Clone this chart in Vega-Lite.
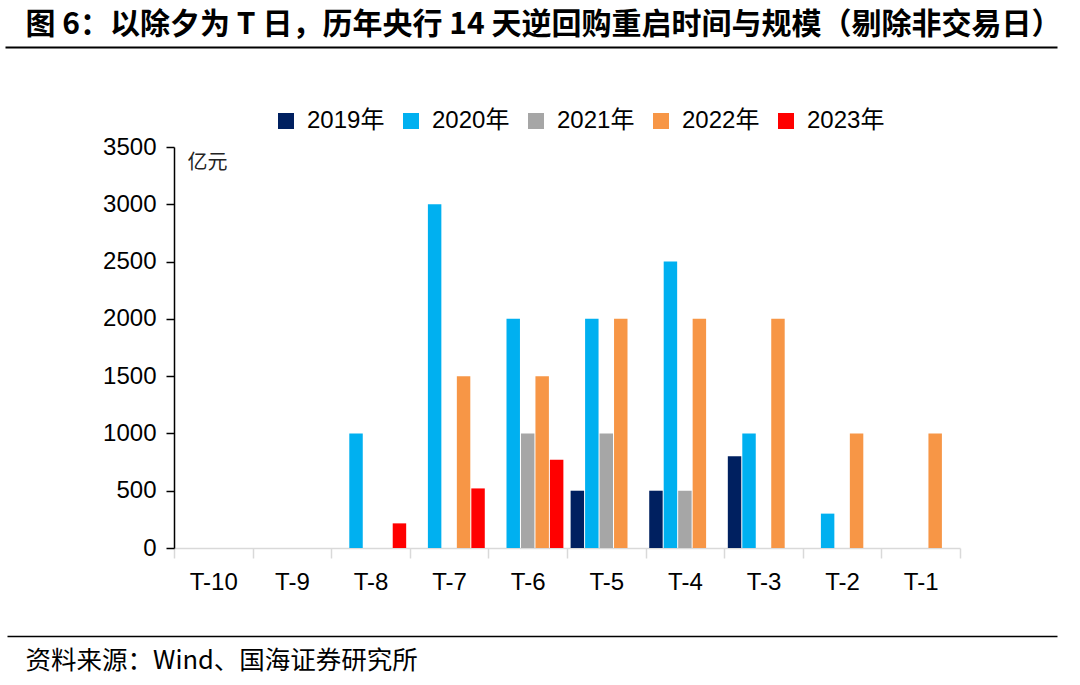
{
  "$schema": "https://vega.github.io/schema/vega-lite/v6.json",
  "autosize": {"type": "none"},
  "width": 786,
  "height": 401,
  "padding": {"left": 174, "top": 147, "right": 120, "bottom": 137},
  "background": "white",
  "config": {"view": {"stroke": null}, "font": "Liberation Sans"},
  "datasets": {
    "bars": [
      {"t": "T-8", "year": "2020年", "value": 1000},
      {"t": "T-8", "year": "2023年", "value": 215},
      {"t": "T-7", "year": "2020年", "value": 3000},
      {"t": "T-7", "year": "2022年", "value": 1500},
      {"t": "T-7", "year": "2023年", "value": 520},
      {"t": "T-6", "year": "2020年", "value": 2000},
      {"t": "T-6", "year": "2021年", "value": 1000},
      {"t": "T-6", "year": "2022年", "value": 1500},
      {"t": "T-6", "year": "2023年", "value": 770},
      {"t": "T-5", "year": "2019年", "value": 500},
      {"t": "T-5", "year": "2020年", "value": 2000},
      {"t": "T-5", "year": "2021年", "value": 1000},
      {"t": "T-5", "year": "2022年", "value": 2000},
      {"t": "T-4", "year": "2019年", "value": 500},
      {"t": "T-4", "year": "2020年", "value": 2500},
      {"t": "T-4", "year": "2021年", "value": 500},
      {"t": "T-4", "year": "2022年", "value": 2000},
      {"t": "T-3", "year": "2019年", "value": 800},
      {"t": "T-3", "year": "2020年", "value": 1000},
      {"t": "T-3", "year": "2022年", "value": 2000},
      {"t": "T-2", "year": "2020年", "value": 300},
      {"t": "T-2", "year": "2022年", "value": 1000},
      {"t": "T-1", "year": "2022年", "value": 1000}
    ],
    "frame": [{"s": 0}, {"s": 1}]
  },
  "layer": [
    {
      "data": {"name": "bars"},
      "mark": {"type": "bar"},
      "encoding": {
        "x": {
          "field": "t",
          "type": "nominal",
          "sort": null,
          "scale": {
            "domain": ["T-10", "T-9", "T-8", "T-7", "T-6", "T-5", "T-4", "T-3", "T-2", "T-1"],
            "paddingInner": 0,
            "paddingOuter": 0
          },
          "axis": {
            "title": null,
            "labelAngle": 0,
            "labelFontSize": 24,
            "labelFont": "Liberation Sans",
            "labelColor": "#000",
            "labelPadding": 12,
            "tickBand": "extent",
            "tickSize": 10,
            "tickColor": "#D9D9D9",
            "tickWidth": 1.5,
            "domainColor": "#D9D9D9",
            "domainWidth": 1.5,
            "grid": false
          }
        },
        "xOffset": {
          "field": "year",
          "type": "nominal",
          "scale": {
            "domain": ["2019年", "2020年", "2021年", "2022年", "2023年"],
            "paddingInner": 0.07,
            "paddingOuter": 0.25
          }
        },
        "y": {
          "field": "value",
          "type": "quantitative",
          "scale": {"domain": [0, 3500], "nice": false},
          "axis": {
            "values": [0, 500, 1000, 1500, 2000, 2500, 3000, 3500],
            "format": "d",
            "grid": false,
            "title": "亿元",
            "titleAngle": 0,
            "titleX": 13,
            "titleY": 15,
            "titleAlign": "left",
            "titleBaseline": "middle",
            "titleFont": "Noto Sans CJK SC",
            "titleFontSize": 20,
            "titleFontWeight": "normal",
            "titleColor": "#222",
            "labelFontSize": 24,
            "labelFont": "Liberation Sans",
            "labelColor": "#000",
            "labelPadding": 10,
            "tickSize": 8,
            "tickColor": "#000",
            "tickWidth": 1.5,
            "domainColor": "#000",
            "domainWidth": 1.5
          }
        },
        "color": {
          "field": "year",
          "type": "nominal",
          "scale": {
            "domain": ["2019年", "2020年", "2021年", "2022年", "2023年"],
            "range": ["#002060", "#00B0F0", "#A6A6A6", "#F79646", "#FF0000"]
          },
          "legend": {
            "orient": "none",
            "legendX": 100,
            "legendY": -38,
            "direction": "horizontal",
            "title": null,
            "symbolType": "square",
            "symbolSize": 256,
            "symbolStrokeWidth": 0,
            "labelFontSize": 24,
            "labelFont": "Liberation Sans, Noto Sans CJK SC",
            "labelColor": "#000",
            "labelOffset": 9,
            "columnPadding": 14
          }
        }
      }
    },
    {
      "data": {"name": "frame"},
      "mark": {"type": "point", "opacity": 0},
      "encoding": {
        "x": {
          "field": "s",
          "type": "quantitative",
          "scale": {"domain": [0, 1], "range": [-169, 883], "nice": false, "zero": false},
          "axis": {
            "orient": "top",
            "offset": 100,
            "domain": true,
            "domainColor": "#000",
            "domainWidth": 2,
            "ticks": false,
            "labels": false,
            "grid": false,
            "title": "图 6：以除夕为 T 日，历年央行 14 天逆回购重启时间与规模（剔除非交易日）",
            "titleX": -149,
            "titleY": -23,
            "titleAlign": "left",
            "titleBaseline": "middle",
            "titleAngle": 0,
            "titleFont": "Noto Sans CJK SC",
            "titleFontSize": 30,
            "titleFontWeight": "bold",
            "titleColor": "#000"
          }
        }
      }
    },
    {
      "data": {"name": "frame"},
      "mark": {"type": "point", "opacity": 0},
      "encoding": {
        "x": {
          "field": "s",
          "type": "quantitative",
          "scale": {"domain": [0, 1], "range": [-167, 883], "nice": false, "zero": false},
          "axis": {
            "orient": "bottom",
            "offset": 88,
            "domain": true,
            "domainColor": "#000",
            "domainWidth": 1.5,
            "ticks": false,
            "labels": false,
            "grid": false,
            "title": "资料来源：Wind、国海证券研究所",
            "titleX": -149,
            "titleY": 24,
            "titleAlign": "left",
            "titleBaseline": "middle",
            "titleAngle": 0,
            "titleFont": "Noto Sans CJK SC",
            "titleFontSize": 25.5,
            "titleFontWeight": "normal",
            "titleColor": "#000"
          }
        }
      }
    }
  ],
  "resolve": {"scale": {"x": "independent"}, "axis": {"x": "independent"}}
}
